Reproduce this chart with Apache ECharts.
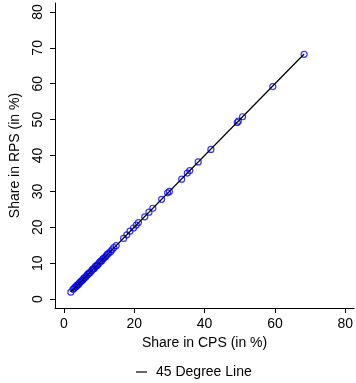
<!DOCTYPE html>
<html>
<head>
<meta charset="utf-8">
<script src="https://cdn.jsdelivr.net/npm/echarts@6/dist/echarts.min.js"></script>
<style>
  html, body { margin: 0; padding: 0; background: #fff; }
  #chart { width: 356px; height: 383px; }
</style>
</head>
<body>
<div id="chart"></div>
<script>
// Share of each unit in CPS vs RPS (in %)
const shareCPS = [
  2.0, 2.6, 2.9, 3.2, 3.5, 3.7, 4.0, 4.3, 4.5, 4.8, 5.0, 5.3, 5.6, 5.8,
  6.1, 6.4, 6.7, 7.0, 7.2, 7.5, 7.9, 8.2, 8.4, 8.7, 9.0, 9.3, 9.6, 9.9,
  10.2, 10.5, 10.8, 11.1, 11.4, 11.8, 12.1, 12.4, 12.8, 13.3, 13.7, 14.2,
  14.9, 17.0, 17.9, 18.8, 19.8, 20.6, 21.2, 23.0, 24.2, 25.3, 27.8, 29.5,
  30.0, 33.5, 35.1, 35.8, 38.2, 41.8, 49.3, 49.6, 50.8, 59.4, 68.3
];
const shareRPS = [
  1.9, 2.7, 2.9, 3.3, 3.4, 3.8, 4.0, 4.2, 4.6, 4.8, 5.1, 5.2, 5.6, 5.9,
  6.0, 6.4, 6.8, 7.0, 7.3, 7.4, 7.9, 8.3, 8.4, 8.6, 9.1, 9.3, 9.5, 9.9,
  10.3, 10.5, 10.7, 11.2, 11.4, 11.7, 12.1, 12.5, 12.8, 13.2, 13.7, 14.3,
  14.9, 16.9, 17.9, 18.9, 19.8, 20.6, 21.3, 22.9, 24.2, 25.3, 27.8, 29.6,
  30.0, 33.4, 35.1, 35.8, 38.2, 41.7, 49.2, 49.6, 50.8, 59.2, 68.2
];
const xTicks = [0, 20, 40, 60, 80];
const yTicks = [0, 10, 20, 30, 40, 50, 60, 70, 80];

const points = shareCPS.map((v, i) => [v, shareRPS[i]]);
const lo = Math.min(...shareCPS), hi = Math.max(...shareCPS);
const diagonal = [[lo, lo], [hi, hi]];

const FONT = 'Liberation Sans';
const chart = echarts.init(document.getElementById('chart'), null, { renderer: 'canvas' });

const axisCommon = {
  type: 'value',
  min: -2.5,
  max: 82.5,
  splitLine: { show: false },
  axisLine: { show: true, onZero: false, lineStyle: { color: '#000', width: 1 } },
  axisTick: { show: true, inside: false, length: 5, lineStyle: { color: '#000', width: 1 } },
  nameLocation: 'middle',
  nameTextStyle: { fontFamily: FONT, fontSize: 14, color: '#000' }
};

chart.setOption({
  animation: false,
  textStyle: { fontFamily: FONT },
  grid: { left: 52, right: 0, top: 3, bottom: 75, containLabel: false },
  xAxis: Object.assign({}, axisCommon, {
    name: 'Share in CPS (in %)',
    nameGap: 24,
    axisTick: Object.assign({}, axisCommon.axisTick, { customValues: xTicks }),
    axisLabel: { customValues: xTicks, margin: 9, fontFamily: FONT, fontSize: 14, color: '#000' }
  }),
  yAxis: Object.assign({}, axisCommon, {
    name: 'Share in RPS (in %)',
    nameGap: 33,
    axisTick: Object.assign({}, axisCommon.axisTick, { customValues: yTicks }),
    axisLabel: { customValues: yTicks, rotate: 90, margin: 10, fontFamily: FONT, fontSize: 14, color: '#000' }
  }),
  legend: {
    left: 131,
    top: 360,
    data: ['45 Degree Line'],
    icon: 'rect',
    itemWidth: 11,
    itemHeight: 1.2,
    selectedMode: false,
    textStyle: { fontFamily: FONT, fontSize: 14, color: '#000', padding: [0, 0, 0, 4] }
  },
  series: [
    {
      name: 'Share',
      type: 'scatter',
      data: points,
      symbol: 'circle',
      symbolSize: 6,
      itemStyle: { color: 'rgba(255,255,255,0)', borderColor: '#0000ff', borderWidth: 1.2 },
      z: 2
    },
    {
      name: '45 Degree Line',
      type: 'line',
      data: diagonal,
      symbol: 'none',
      lineStyle: { color: '#000', width: 1.3 },
      itemStyle: { color: '#000' },
      z: 3
    }
  ]
});
</script>
</body>
</html>
